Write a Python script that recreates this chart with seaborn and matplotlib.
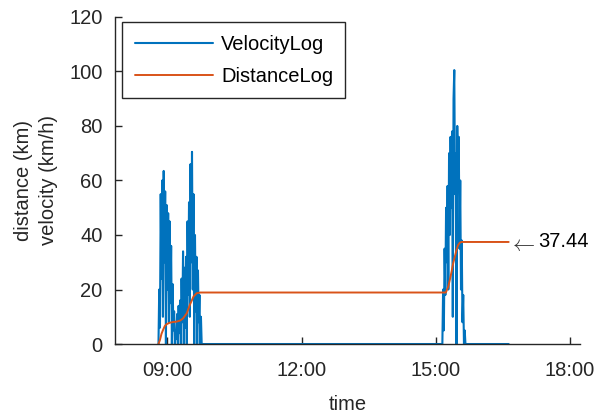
import matplotlib
matplotlib.use("Agg")
import matplotlib.pyplot as plt
import matplotlib.dates as mdates
import numpy as np
import pandas as pd
import seaborn as sns

# --- logged data -----------------------------------------------------------
day = "2016-06-01 "

# velocity (km/h), one reading per minute during each trip
trip1_start = "08:48:00"
trip1_velocity = [0, 20, 6, 55, 24, 60, 10, 63.5, 30, 56, 0, 51, 20, 48, 8, 45,
                  15, 36, 0, 22, 5, 12, 0, 5, 2, 11, 0, 14, 4, 16, 0, 24, 8, 34,
                  0, 28, 6, 32, 0, 45, 18, 52, 10, 66, 30, 70.5, 20, 55, 0, 40,
                  12, 32, 0, 27, 8, 18, 0, 10, 0]
trip2_start = "15:09:00"
trip2_velocity = [0, 20, 5, 35, 18, 50, 30, 58, 20, 70, 40, 76, 50, 78, 10, 90,
                  100.5, 55, 70, 0, 80, 60, 76, 35, 60, 20, 38, 8, 18, 0, 5, 0]
log_end = "16:38:00"

# cumulative distance (km)
distance_times = ["08:48:00", "08:50:00", "08:52:00", "08:54:30", "08:56:30",
                  "08:59:00", "09:03:00", "09:08:00", "09:12:00", "09:17:00",
                  "09:21:00", "09:26:00", "09:30:00", "09:35:00", "09:39:00",
                  "09:44:00",
                  "15:13:40", "15:16:50", "15:19:00", "15:21:20", "15:23:30",
                  "15:25:40", "15:28:00", "15:30:10", "15:32:30", "15:34:40",
                  "16:38:00"]
distance_values = [0, 1.5, 3.7, 5.4, 6.6, 7.3, 7.8, 8.1, 8.2, 8.6, 9.4, 11.3,
                   14.3, 17.4, 18.6, 18.9,
                   18.9, 21.0, 23.5, 26.5, 29.6, 32.0, 34.5, 36.3, 37.2, 37.44,
                   37.44]

# --- assemble series -------------------------------------------------------
t1 = pd.date_range(day + trip1_start, periods=len(trip1_velocity), freq="min")
t2 = pd.date_range(day + trip2_start, periods=len(trip2_velocity), freq="min")
vel_time = list(t1) + list(t2) + [pd.Timestamp(day + log_end)]
vel_vals = list(trip1_velocity) + list(trip2_velocity) + [0]
velocity = pd.DataFrame({"time": vel_time, "velocity": vel_vals})

distance = pd.DataFrame({
    "time": pd.to_datetime([day + t for t in distance_times],
                           format="%Y-%m-%d %H:%M:%S"),
    "distance": distance_values,
})

# --- style -----------------------------------------------------------------
sns.set_style("ticks")
plt.rcParams["font.family"] = ["Liberation Sans", "DejaVu Sans"]

dark = "#262626"
blue = "#0072BD"
orange = "#D95319"
fs = 14.5

fig = plt.figure(figsize=(5.99, 4.13), dpi=100)
ax = fig.add_axes([0.192, 0.167, 0.776, 0.792])

sns.lineplot(data=velocity, x="time", y="velocity", ax=ax, color=blue,
             linewidth=1.5, label="VelocityLog", sort=False, estimator=None)
sns.lineplot(data=distance, x="time", y="distance", ax=ax, color=orange,
             linewidth=1.4, label="DistanceLog", sort=False, estimator=None)

ax.set_xlim(pd.Timestamp(day + "07:49:40"), pd.Timestamp(day + "18:13:30"))
ax.set_ylim(0, 120)
ax.set_yticks(np.arange(0, 121, 20))
ax.xaxis.set_major_locator(mdates.HourLocator(byhour=[9, 12, 15, 18]))
ax.xaxis.set_major_formatter(mdates.DateFormatter("%H:%M"))

for side in ("top", "right"):
    ax.spines[side].set_visible(False)
for side in ("left", "bottom"):
    ax.spines[side].set_color(dark)
    ax.spines[side].set_linewidth(1.0)
ax.tick_params(direction="in", length=5, width=1.0, color=dark,
               labelcolor=dark, labelsize=fs)
ax.tick_params(axis="y", pad=9)
ax.tick_params(axis="x", pad=12)

ax.set_xlabel("time", fontsize=fs, color=dark, labelpad=11)
ax.set_ylabel("distance (km)\nvelocity (km/h)", fontsize=fs, color=dark,
              labelpad=8, linespacing=1.4)

# label the final distance: arrow glyph, then the value
end_point = (distance["time"].iloc[-1], distance["distance"].iloc[-1])
ax.annotate(r"$\leftarrow$", xy=end_point, xytext=(0.5, -2.5),
            textcoords="offset points", ha="left", va="center", fontsize=16,
            color="#333333", math_fontfamily="cm")
ax.annotate(f"{distance_values[-1]:.2f}", xy=end_point, xytext=(21, 0),
            textcoords="offset points", ha="left", va="center", fontsize=fs,
            color="black")

leg = ax.legend(loc="upper left", bbox_to_anchor=(0.016, 0.983), fontsize=fs,
                frameon=True, fancybox=False, framealpha=1, edgecolor=dark,
                handlelength=3.9, handletextpad=0.4, borderpad=0.6,
                labelspacing=0.65, borderaxespad=0)
leg.get_frame().set_linewidth(1.0)
for text in leg.get_texts():
    text.set_color("black")

fig.savefig("out.png", dpi=100)
